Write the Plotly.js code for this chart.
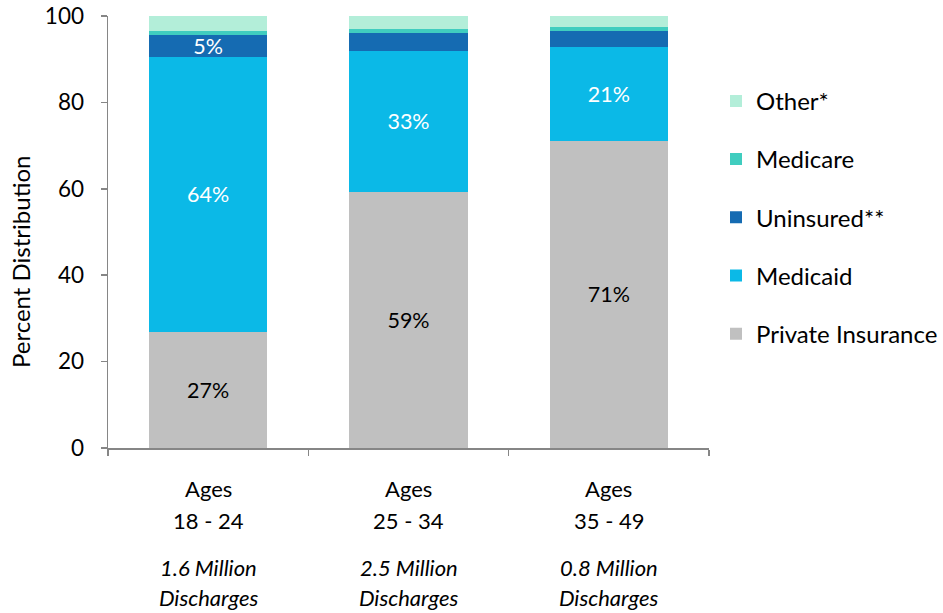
<!DOCTYPE html>
<html>
<head>
<meta charset="utf-8">
<script src="https://cdn.plot.ly/plotly-3.0.1.min.js"></script>
<style>html,body{margin:0;padding:0;background:#fff}#chart{width:943px;height:613px}</style>
</head>
<body>
<div id="chart"></div>
<script>
var categories = ["18 - 24", "25 - 34", "35 - 49"];
var catLine1 = ["Ages", "Ages", "Ages"];
var catLine2 = ["18 - 24", "25 - 34", "35 - 49"];
var dischargesLine1 = ["1.6 Million", "2.5 Million", "0.8 Million"];
var dischargesLine2 = ["Discharges", "Discharges", "Discharges"];

var privateIns = [26.9, 59.3, 71.1];
var medicaid = [63.6, 32.7, 21.8];
var uninsured = [5.1, 4.1, 3.7];
var medicare = [0.9, 0.9, 0.9];
var other = [3.5, 3.0, 2.5];

var privateLabels = ["27%", "59%", "71%"];
var medicaidLabels = ["64%", "33%", "21%"];
var uninsuredLabels = ["5%", "", ""];

var FONT = "Lato, 'Liberation Sans', sans-serif";

function barTrace(name, y, color, rank, text, textColor) {
  return {
    type: "bar", name: name, x: categories, y: y,
    marker: {color: color, line: {width: 0}},
    width: 0.59,
    legendgroup: name,
    legendrank: rank,
    text: text || null,
    textposition: text ? "inside" : "none",
    insidetextanchor: "middle",
    textangle: 0,
    constraintext: "none",
    textfont: {family: FONT, size: 21.5, color: textColor || "#000"},
    hoverinfo: "skip"
  };
}

var data = [
  barTrace("Private Insurance", privateIns, "#C0C0C0", 5, privateLabels, "#000000"),
  barTrace("Medicaid", medicaid, "#0BB9E7", 4, medicaidLabels, "#FFFFFF"),
  barTrace("Uninsured**", uninsured, "#156BB2", 3, uninsuredLabels, "#FFFFFF"),
  barTrace("Medicare", medicare, "#40CDBF", 2),
  barTrace("Other*", other, "#B3EED9", 1)
];

var annotations = [];
var linePos = [488, 520, 567, 597];
var lineArrays = [catLine1, catLine2, dischargesLine1, dischargesLine2];
for (var li = 0; li < lineArrays.length; li++) {
  for (var ci = 0; ci < categories.length; ci++) {
    var t = lineArrays[li][ci];
    annotations.push({
      xref: "x", yref: "paper", x: categories[ci], y: 0,
      yshift: -(linePos[li] - 448), yanchor: "middle", xanchor: "center",
      showarrow: false,
      text: li >= 2 ? "<i>" + t + "</i>" : t,
      font: {family: FONT, size: 22, color: "#000"}
    });
  }
}
annotations.push({
  xref: "paper", yref: "paper", x: 0, y: (448 - 262) / 432,
  xshift: -(108 - 20), xanchor: "center", yanchor: "middle",
  textangle: -90, showarrow: false,
  text: "Percent Distribution",
  font: {family: FONT, size: 24, color: "#000"}
});

var layout = {
  width: 943, height: 613,
  margin: {l: 108, r: 234, t: 16, b: 165, autoexpand: false},
  paper_bgcolor: "#fff", plot_bgcolor: "#fff",
  barmode: "stack",
  bargap: 0.41,
  font: {family: FONT, size: 20, color: "#000"},
  xaxis: {
    type: "category",
    showticklabels: false,
    showline: true, linecolor: "#868686", linewidth: 1.5,
    ticks: "outside", tickson: "boundaries", ticklen: 6, tickcolor: "#868686", tickwidth: 1.5,
    showgrid: false, zeroline: false,
    range: [-0.5, 2.5], fixedrange: true
  },
  yaxis: {
    range: [0, 100], tickvals: [0, 20, 40, 60, 80, 100],
    showline: true, linecolor: "#868686", linewidth: 1.5,
    ticks: "outside", ticklen: 6, tickcolor: "#868686", tickwidth: 1.5,
    showgrid: false, zeroline: false,
    tickfont: {family: FONT, size: 22.5, color: "#000"},
    ticklabelstandoff: 12
  },
  legend: {
    xref: "container", x: 716 / 943, xanchor: "left", y: 0.534, yanchor: "middle",
    traceorder: "grouped", tracegroupgap: 24,
    font: {family: FONT, size: 24, color: "#000"},
    itemwidth: 30
  },
  annotations: annotations,
  showlegend: true
};

Plotly.newPlot("chart", data, layout, {displayModeBar: false, staticPlot: true});
</script>
</body>
</html>
